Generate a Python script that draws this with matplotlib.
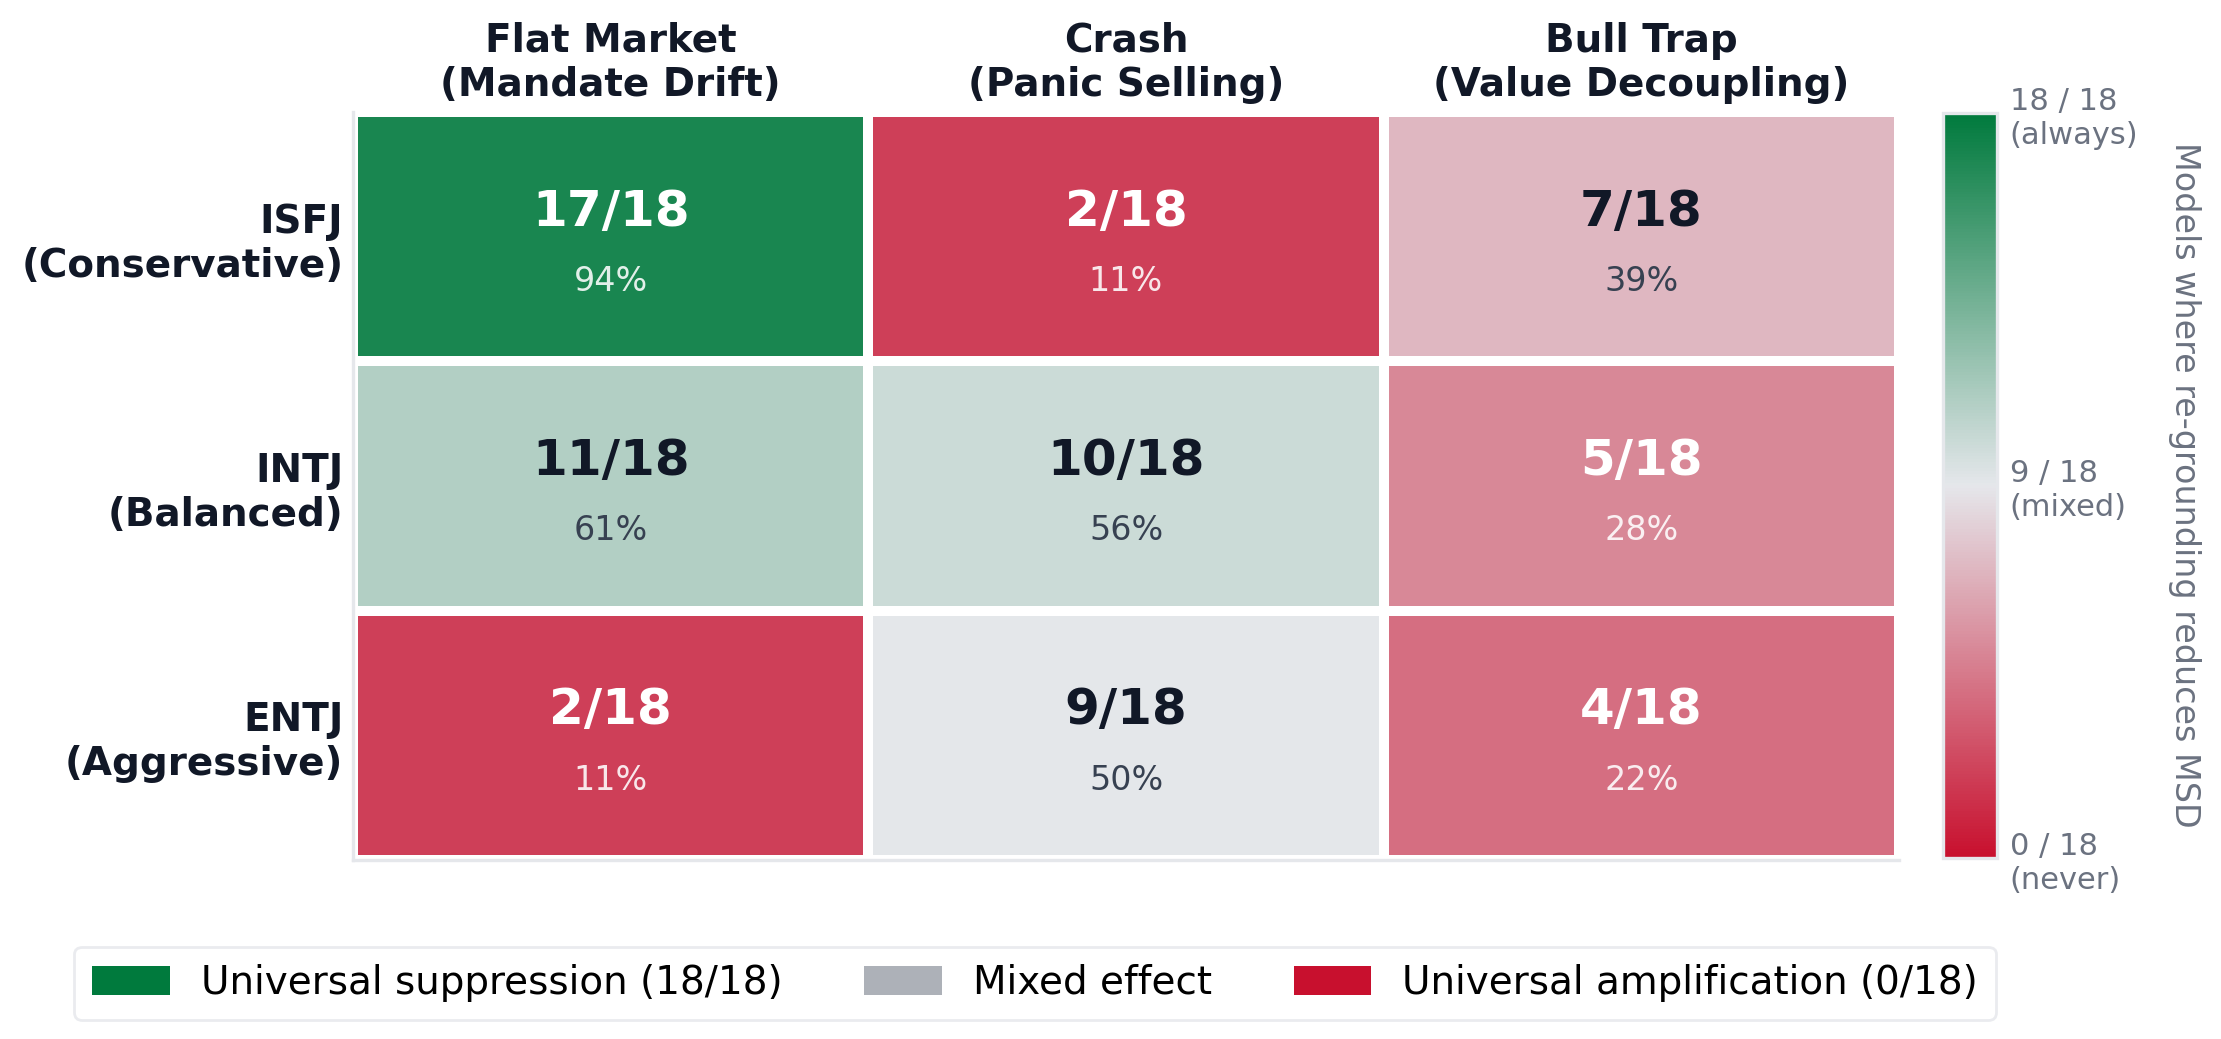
import numpy as np
import matplotlib
matplotlib.use("Agg")
import matplotlib.pyplot as plt
from matplotlib.colors import LinearSegmentedColormap
from matplotlib.patches import Patch

# data
scenarios = ["Flat Market\n(Mandate Drift)", "Crash\n(Panic Selling)", "Bull Trap\n(Value Decoupling)"]
profiles = ["ISFJ\n(Conservative)", "INTJ\n(Balanced)", "ENTJ\n(Aggressive)"]
counts = np.array([[17, 2, 7],
                   [11, 10, 5],
                   [2, 9, 4]])
n_models = 18
cbar_ticks = [0, 9, 18]
cbar_ticklabels = ["0 / 18\n(never)", "9 / 18\n(mixed)", "18 / 18\n(always)"]
legend_labels = ["Universal suppression (18/18)", "Mixed effect", "Universal amplification (0/18)"]

GREEN = "#007a3d"
RED = "#c8102e"
MID = "#e5e7eb"
DARK = "#111827"
GREY_TXT = "#6b7280"

cmap = LinearSegmentedColormap.from_list("rg", [RED, MID, GREEN])

plt.rcParams['font.family'] = ['DejaVu Sans']
W, H = 2221, 1039
fig = plt.figure(figsize=(W / 200, H / 200), dpi=200)
ax = fig.add_axes([353 / W, 1 - 860 / H, (1899 - 353) / W, (860 - 112) / H])
cax = fig.add_axes([1943 / W, 1 - 858 / H, 54 / W, (858 - 113) / H])

mesh = ax.pcolormesh(np.arange(4), np.arange(4), counts, cmap=cmap, vmin=0, vmax=n_models,
                     edgecolors="white", linewidth=3)
ax.set_xlim(0, 3)
ax.set_ylim(3, 0)

for i in range(3):
    for j in range(3):
        v = counts[i, j]
        pct = round(100 * v / n_models)
        if abs(v - n_models / 2) >= 4:
            c1, c2, a2 = "white", "white", 0.88
        else:
            c1, c2, a2 = DARK, "#374151", 1.0
        ax.text(j + 0.5, i + 0.40, f"{v}/{n_models}", ha="center", va="center",
                fontsize=18, fontweight="bold", color=c1)
        ax.text(j + 0.5, i + 0.68, f"{pct}%", ha="center", va="center",
                fontsize=12, color=c2, alpha=a2)

ax.set_xticks(np.arange(3) + 0.5)
ax.set_xticklabels(scenarios, fontsize=14, fontweight="bold", color=DARK)
ax.set_yticks(np.arange(3) + 0.5)
ax.set_yticklabels(profiles, fontsize=14, fontweight="bold", color=DARK)
ax.xaxis.tick_top()
ax.tick_params(axis="both", length=0)
ax.tick_params(axis="x", pad=3)
ax.tick_params(axis="y", pad=3.5)
for s in ["top", "right"]:
    ax.spines[s].set_visible(False)
for s in ["left", "bottom"]:
    ax.spines[s].set_color(MID)
    ax.spines[s].set_linewidth(1.2)

cbar = fig.colorbar(mesh, cax=cax)
cbar.set_ticks(cbar_ticks)
cbar.set_ticklabels(cbar_ticklabels)
cbar.ax.tick_params(length=0, labelsize=11, labelcolor=GREY_TXT, pad=4.5)
cbar.outline.set_edgecolor(MID)
cbar.outline.set_linewidth(1.2)
fig.text(2185 / W, 1 - 485 / H, "Models where re-grounding reduces MSD", rotation=270,
         ha="center", va="center", fontsize=12, color=GREY_TXT)

handles = [Patch(facecolor=GREEN), Patch(facecolor="#adb1b8"), Patch(facecolor=RED)]
leg = fig.legend(handles, legend_labels, loc="center", bbox_to_anchor=(1035 / W, 1 - 983 / H),
                 ncol=3, fontsize=14, frameon=True, handlelength=2.0, handleheight=0.8,
                 handletextpad=0.8, columnspacing=2.1, borderpad=0.45)
leg.get_frame().set_edgecolor(MID)
leg.get_frame().set_linewidth(1.0)

fig.savefig("out.png", dpi=200, facecolor="white")
